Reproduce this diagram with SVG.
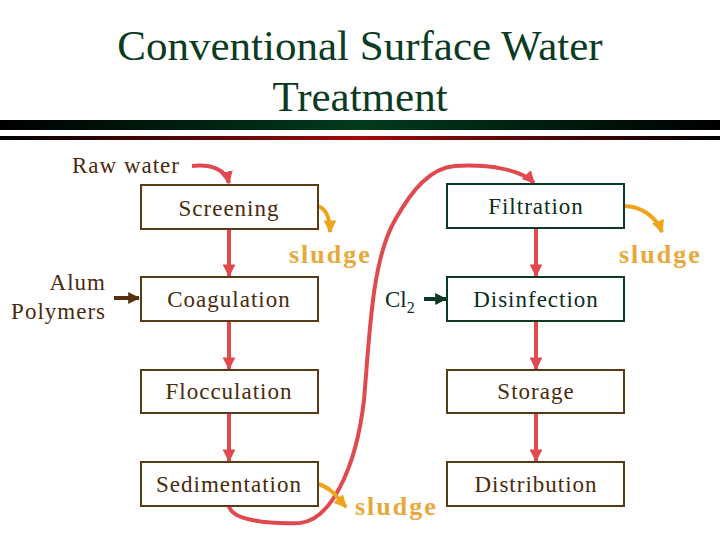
<svg xmlns="http://www.w3.org/2000/svg" width="720" height="540" viewBox="0 0 720 540">
  <style>
    .title { font-family: "Liberation Serif", serif; font-size: 43px; fill: #0b3b22; text-anchor: middle; }
    .lbl { font-family: "Liberation Serif", serif; font-size: 23px; letter-spacing: 1px; text-anchor: middle; }
    .brown { fill: #4a2a0c; }
    .green { fill: #0b2e1c; }
    .boxB { fill: #ffffff; stroke: #5a3a14; stroke-width: 2; }
    .boxG { fill: #ffffff; stroke: #0d3a22; stroke-width: 2; }
    .sludge { font-family: "Liberation Serif", serif; font-size: 26px; font-weight: bold; letter-spacing: 2px; fill: #e8a83a; }
    .flow { fill: none; stroke: #e04a4e; stroke-width: 4; }
    .waste { fill: none; stroke: #f0a41c; stroke-width: 4; }
  </style>
  <defs>
    <linearGradient id="gbar" x1="0" y1="0" x2="1" y2="0">
      <stop offset="0" stop-color="#000000"/>
      <stop offset="0.5" stop-color="#003c1c"/>
      <stop offset="1" stop-color="#000000"/>
    </linearGradient>
    <linearGradient id="rbar" x1="0" y1="0" x2="1" y2="0">
      <stop offset="0" stop-color="#000000"/>
      <stop offset="0.5" stop-color="#a00c0c"/>
      <stop offset="1" stop-color="#000000"/>
    </linearGradient>
    <marker id="ar" viewBox="0 0 10 10" refX="9" refY="5" markerWidth="3.2" markerHeight="3.2" orient="auto" markerUnits="strokeWidth">
      <path d="M0,0 L10,5 L0,10 z" fill="#e04a4e"/>
    </marker>
    <marker id="ao" viewBox="0 0 10 10" refX="9" refY="5" markerWidth="3.2" markerHeight="3.2" orient="auto" markerUnits="strokeWidth">
      <path d="M0,0 L10,5 L0,10 z" fill="#f0a41c"/>
    </marker>
    <marker id="ab" viewBox="0 0 10 10" refX="9" refY="5" markerWidth="3" markerHeight="3" orient="auto" markerUnits="strokeWidth">
      <path d="M0,0 L10,5 L0,10 z" fill="#5a3010"/>
    </marker>
    <marker id="ag" viewBox="0 0 10 10" refX="9" refY="5" markerWidth="3" markerHeight="3" orient="auto" markerUnits="strokeWidth">
      <path d="M0,0 L10,5 L0,10 z" fill="#0d3a22"/>
    </marker>
  </defs>

  <rect width="720" height="540" fill="#ffffff"/>

  <g id="title">
    <text class="title" x="360" y="60">Conventional Surface Water</text>
    <text class="title" x="360" y="111">Treatment</text>
    <rect x="0" y="120" width="720" height="10" fill="url(#gbar)"/>
    <rect x="0" y="136" width="720" height="4" fill="url(#rbar)"/>
  </g>

  <g id="connectors">
    <path class="flow" d="M192,166 C212,164 226,170 229,183" marker-end="url(#ar)"/>
    <line class="flow" x1="229" y1="229" x2="229" y2="276" marker-end="url(#ar)"/>
    <line class="flow" x1="229" y1="321" x2="229" y2="369" marker-end="url(#ar)"/>
    <line class="flow" x1="229" y1="413" x2="229" y2="461" marker-end="url(#ar)"/>
    <path class="flow" d="M229,506 C232,521 270,524 300,523 C330,520 356,470 364,400 C370,330 372,260 395,220 C412,190 430,168 455,166 C490,164 522,170 534,183" marker-end="url(#ar)"/>
    <line class="flow" x1="536" y1="228" x2="536" y2="276" marker-end="url(#ar)"/>
    <line class="flow" x1="536" y1="321" x2="536" y2="369" marker-end="url(#ar)"/>
    <line class="flow" x1="536" y1="413" x2="536" y2="461" marker-end="url(#ar)"/>
    <path class="waste" d="M318,206 C326,209 330,218 330,232" marker-end="url(#ao)"/>
    <path class="waste" d="M624,206 C640,206 656,216 662,232" marker-end="url(#ao)"/>
    <path class="waste" d="M318,484 C330,487 336,496 346,507" marker-end="url(#ao)"/>
    <line x1="114" y1="298" x2="139" y2="298" stroke="#5a3010" stroke-width="4" marker-end="url(#ab)"/>
    <line x1="424" y1="299" x2="446" y2="299" stroke="#0d3a22" stroke-width="4" marker-end="url(#ag)"/>
  </g>

  <g id="raw-water">
    <text class="lbl brown" x="126" y="173">Raw water</text>
  </g>
  <g id="alum-polymers">
    <text class="lbl brown" x="106" y="290" style="text-anchor:end">Alum</text>
    <text class="lbl brown" x="106" y="319" style="text-anchor:end">Polymers</text>
  </g>
  <g id="cl2">
    <text class="lbl green" x="385" y="307" style="text-anchor:start;letter-spacing:0">Cl<tspan font-size="16" dy="6">2</tspan></text>
  </g>

  <g id="screening">
    <rect class="boxB" x="141" y="185" width="177" height="44"/>
    <text class="lbl brown" x="229" y="216">Screening</text>
  </g>
  <g id="coagulation">
    <rect class="boxB" x="141" y="277" width="177" height="44"/>
    <text class="lbl brown" x="229" y="307">Coagulation</text>
  </g>
  <g id="flocculation">
    <rect class="boxB" x="141" y="370" width="177" height="43"/>
    <text class="lbl brown" x="229" y="399">Flocculation</text>
  </g>
  <g id="sedimentation">
    <rect class="boxB" x="141" y="462" width="177" height="44"/>
    <text class="lbl brown" x="229" y="492">Sedimentation</text>
  </g>
  <g id="filtration">
    <rect class="boxG" x="447" y="184" width="177" height="44"/>
    <text class="lbl green" x="536" y="214">Filtration</text>
  </g>
  <g id="disinfection">
    <rect class="boxG" x="447" y="277" width="177" height="44"/>
    <text class="lbl green" x="536" y="307">Disinfection</text>
  </g>
  <g id="storage">
    <rect class="boxB" x="447" y="370" width="177" height="43"/>
    <text class="lbl brown" x="536" y="399">Storage</text>
  </g>
  <g id="distribution">
    <rect class="boxB" x="447" y="462" width="177" height="44"/>
    <text class="lbl brown" x="536" y="492">Distribution</text>
  </g>

  <g id="sludge-labels">
    <text class="sludge" x="289" y="263">sludge</text>
    <text class="sludge" x="619" y="263">sludge</text>
    <text class="sludge" x="355" y="515">sludge</text>
  </g>
</svg>
